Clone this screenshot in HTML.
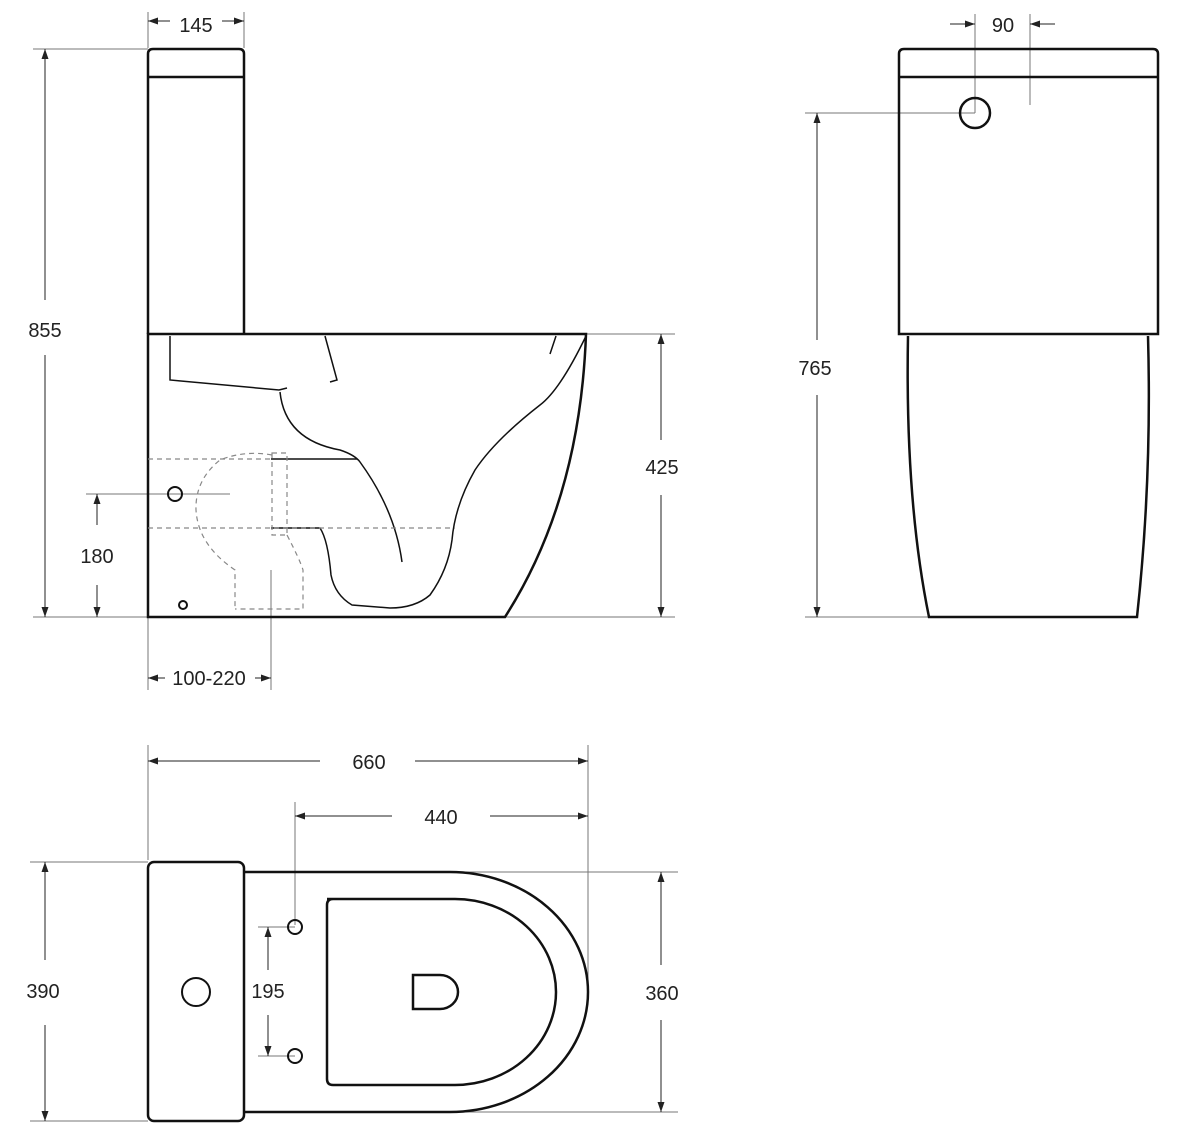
<!DOCTYPE html>
<html><head><meta charset="utf-8"><style>
html,body{margin:0;padding:0;background:#fff;}
svg{display:block;}
text{font-family:"Liberation Sans",sans-serif;font-size:20px;fill:#222;text-anchor:middle;}
</style></head><body>
<svg width="1200" height="1135" viewBox="0 0 1200 1135" xmlns="http://www.w3.org/2000/svg">
<defs>
<marker id="a" viewBox="0 0 10 10" refX="10" refY="5" markerWidth="10" markerHeight="10" markerUnits="userSpaceOnUse" orient="auto-start-reverse">
<path d="M0,1.5 L10,5 L0,8.5 Z" fill="#222"/></marker>
</defs>
<g fill="none" stroke="#777" stroke-width="1">
<!-- ext lines side view -->
<line x1="148" y1="12" x2="148" y2="48"/><line x1="244" y1="12" x2="244" y2="48"/>
<line x1="33" y1="49" x2="148" y2="49"/>
<line x1="33" y1="617" x2="148" y2="617"/>
<line x1="586" y1="334" x2="675" y2="334"/>
<line x1="505" y1="617" x2="675" y2="617"/>
<line x1="86" y1="494" x2="230" y2="494"/>
<line x1="148" y1="617" x2="148" y2="690"/>
<line x1="271" y1="570" x2="271" y2="690"/>
<!-- front view ext -->
<line x1="975" y1="14" x2="975" y2="113"/><line x1="1030" y1="14" x2="1030" y2="105"/>
<line x1="805" y1="113" x2="975" y2="113"/>
<line x1="805" y1="617" x2="929" y2="617"/>
<!-- top view ext -->
<line x1="148" y1="745" x2="148" y2="860"/><line x1="588" y1="745" x2="588" y2="990"/>
<line x1="295" y1="802" x2="295" y2="925"/>
<line x1="30" y1="862" x2="148" y2="862"/><line x1="30" y1="1121" x2="148" y2="1121"/>
<line x1="450" y1="872" x2="678" y2="872"/><line x1="450" y1="1112" x2="678" y2="1112"/>
<line x1="258" y1="927" x2="295" y2="927"/><line x1="258" y1="1056" x2="295" y2="1056"/>
</g>
<g stroke="#222" stroke-width="1" fill="none">
<line x1="170" y1="21" x2="148" y2="21" marker-end="url(#a)"/>
<line x1="222" y1="21" x2="244" y2="21" marker-end="url(#a)"/>
<line x1="45" y1="300" x2="45" y2="49" marker-end="url(#a)"/>
<line x1="45" y1="355" x2="45" y2="617" marker-end="url(#a)"/>
<line x1="661" y1="440" x2="661" y2="334" marker-end="url(#a)"/>
<line x1="661" y1="495" x2="661" y2="617" marker-end="url(#a)"/>
<line x1="97" y1="525" x2="97" y2="494" marker-end="url(#a)"/>
<line x1="97" y1="585" x2="97" y2="617" marker-end="url(#a)"/>
<line x1="165" y1="678" x2="148" y2="678" marker-end="url(#a)"/>
<line x1="255" y1="678" x2="271" y2="678" marker-end="url(#a)"/>
<line x1="950" y1="24" x2="975" y2="24" marker-end="url(#a)"/>
<line x1="1055" y1="24" x2="1030" y2="24" marker-end="url(#a)"/>
<line x1="817" y1="340" x2="817" y2="113" marker-end="url(#a)"/>
<line x1="817" y1="395" x2="817" y2="617" marker-end="url(#a)"/>
<line x1="320" y1="761" x2="148" y2="761" marker-end="url(#a)"/>
<line x1="415" y1="761" x2="588" y2="761" marker-end="url(#a)"/>
<line x1="392" y1="816" x2="295" y2="816" marker-end="url(#a)"/>
<line x1="490" y1="816" x2="588" y2="816" marker-end="url(#a)"/>
<line x1="45" y1="960" x2="45" y2="862" marker-end="url(#a)"/>
<line x1="45" y1="1025" x2="45" y2="1121" marker-end="url(#a)"/>
<line x1="661" y1="965" x2="661" y2="872" marker-end="url(#a)"/>
<line x1="661" y1="1020" x2="661" y2="1112" marker-end="url(#a)"/>
<line x1="268" y1="970" x2="268" y2="927" marker-end="url(#a)"/>
<line x1="268" y1="1015" x2="268" y2="1056" marker-end="url(#a)"/>
</g>
<g font-size="20">
<text x="196" y="32">145</text>
<text x="45" y="337">855</text>
<text x="662" y="474">425</text>
<text x="97" y="563">180</text>
<text x="209" y="685">100-220</text>
<text x="1003" y="32">90</text>
<text x="815" y="375">765</text>
<text x="369" y="769">660</text>
<text x="441" y="824">440</text>
<text x="43" y="998">390</text>
<text x="268" y="998">195</text>
<text x="662" y="1000">360</text>
</g>
<!-- side view -->
<g fill="none" stroke="#111" stroke-width="2.5">
<path d="M148,334 V54 Q148,49 153,49 H239 Q244,49 244,54 V334"/>
<line x1="148" y1="77" x2="244" y2="77"/>
<path d="M148,334 H586 Q580,500 505,617 H148 Z"/>
<path d="M899,334 V54 Q899,49 904,49 H1153 Q1158,49 1158,54 V334 Z"/>
<line x1="899" y1="77" x2="1158" y2="77"/>
<path d="M908,336 Q905,500 929,617 H1137 Q1152,480 1148,336"/>
<circle cx="975" cy="113" r="15"/>
<!-- top view -->
<rect x="148" y="862" width="96" height="259" rx="6"/>
<path d="M244,872 H450 A138,120 0 0 1 450,1112 H244"/>
<path d="M327,899 Q327,899 333,899 H455 A101,93 0 0 1 455,1085 H333 Q327,1085 327,1079 V905 Q327,899 333,899"/>
<path d="M413,975 H440 A18,17 0 0 1 440,1009 H413 Z"/>
</g>
<g fill="none" stroke="#111" stroke-width="2">
<circle cx="175" cy="494" r="7"/><circle cx="183" cy="605" r="4"/>
<circle cx="196" cy="992" r="14"/><circle cx="295" cy="927" r="7"/><circle cx="295" cy="1056" r="7"/>
</g>
<g fill="none" stroke="#111" stroke-width="1.5">
<path d="M170,336 V380 L279,390 L287,388"/>
<path d="M280,392 Q285,440 340,450 Q355,455 360,462 Q395,510 402,562"/>
<path d="M325,336 L337,380 L330,382"/>
<path d="M556,336 L550,354"/>
<path d="M586,336 Q560,390 540,405 Q495,440 475,470 Q455,505 452,540 Q448,570 430,595 Q415,608 390,608 L352,605 Q335,595 331,575 Q328,540 320,528 H271"/>
<line x1="271" y1="459" x2="357" y2="459"/>
</g>
<g fill="none" stroke="#888" stroke-width="1.2" stroke-dasharray="5,4">
<line x1="148" y1="459" x2="271" y2="459"/>
<line x1="148" y1="528" x2="455" y2="528"/>
<rect x="272" y="453" width="15" height="82"/>
<path d="M272,455 Q245,450 220,460 Q195,480 196,510 Q198,545 235,570 V609"/>
<path d="M287,535 Q300,560 303,570 V609 H235"/>
</g>
</svg>
</body></html>
